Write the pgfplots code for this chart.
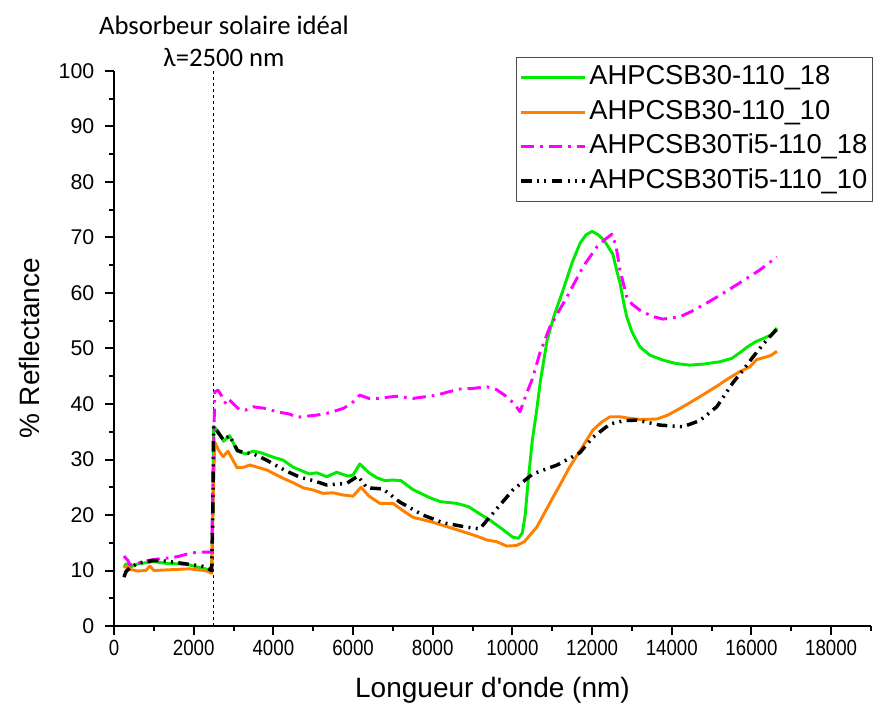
\documentclass[border=0pt]{standalone}
\usepackage{pgfplots}
\pgfplotsset{compat=1.18}
\usepackage{fontspec}
\setmainfont{Liberation Sans}
\newfontfamily\arial{Liberation Sans}
\newfontfamily\arialn[FakeStretch=0.85]{Liberation Sans}
\newfontfamily\carlito{Carlito}
\definecolor{cgreen}{RGB}{0,235,0}
\definecolor{corange}{RGB}{255,128,0}
\definecolor{cmag}{RGB}{255,0,255}
\begin{document}
\begin{tikzpicture}
\path[use as bounding box] (-85.5pt,-63.75pt) rectangle (581.25pt,469.5pt);
\begin{axis}[
 at={(0pt,0pt)}, anchor=south west,
 scale only axis, width=567.75pt, height=416.25pt,
 xmin=0, xmax=19000, ymin=0, ymax=100,
 axis lines=left,
 axis line style={-, line width=1.5pt, black},
 tick align=outside,
 major tick length=6.75pt, minor tick length=3.75pt,
 every tick/.style={line width=1.5pt, black},
 xtick={0,2000,...,18000}, minor xtick={1000,3000,...,19000},
 ytick={0,10,...,100}, minor ytick={5,15,...,95},
 scaled x ticks=false,
 /pgf/number format/assume math mode=true,
 /pgf/number format/set thousands separator={},
 xticklabel style={font=\arialn\fontsize{16.5}{19}\selectfont},
 yticklabel style={font=\arial\fontsize{16}{19}\selectfont, xshift=-4.5pt},
 xlabel={Longueur d'onde (nm)},
 ylabel={\% Reflectance},
 xlabel style={font=\arial\fontsize{21}{25}\selectfont, at={(axis description cs:0.5,-0.1153)}, anchor=center},
 ylabel style={font=\arial\fontsize{21}{25}\selectfont, at={(axis description cs:-0.111,0.5)}, anchor=center},
 legend style={at={(axis description cs:0.531,1.025)}, anchor=north west,
   draw=black!70, line width=0.8pt, font=\arial\fontsize{20.5}{24}\selectfont,
   inner sep=2pt, row sep=0pt,
   nodes={text height=15pt, text depth=4.5pt, inner ysep=3.2pt}},
 legend cell align=left,
 legend image code/.code={\draw[#1] (0pt,0pt) -- (48pt,0pt);},
 line join=round,
]
\addplot[black, line width=0.6pt, dash pattern=on 2.5pt off 2pt, forget plot] coordinates {(2500,0)(2500,100)};

\addplot[cgreen, line width=2.2pt] coordinates {
(250,10.5)(300,11.2)(400,10.6)(600,11.2)(800,11.4)(1000,11.6)(1300,11.3)(1600,11.2)(1900,11.0)(2100,10.6)(2300,10.3)(2450,9.8)(2480,20)(2500,36.0)(2600,35.2)(2750,33.3)(2900,34.3)(3100,31.5)(3300,31.0)(3500,31.5)(3700,31.2)(4000,30.4)(4240,29.9)(4500,28.6)(4670,28.1)(4900,27.4)(5090,27.6)(5340,26.9)(5590,27.7)(5870,27.0)(6000,27.2)(6170,29.2)(6400,27.6)(6600,26.7)(6800,26.2)(7000,26.3)(7200,26.2)(7500,24.6)(7930,23.1)(8200,22.4)(8600,22.1)(8900,21.5)(9180,20.2)(9450,19.0)(9700,17.7)(10010,16.0)(10150,15.8)(10250,16.8)(10320,20)(10400,26.5)(10500,33.5)(10600,38.4)(10700,44)(10870,51.5)(11050,56)(11270,60.5)(11500,65.5)(11700,69)(11850,70.5)(12000,71.1)(12150,70.5)(12300,69.5)(12520,67)(12620,64)(12700,61.8)(12800,58)(12870,55.7)(13000,53)(13200,50.3)(13450,48.8)(13780,47.9)(14100,47.3)(14450,47.0)(14800,47.2)(15200,47.6)(15500,48.2)(15700,49.2)(15900,50.3)(16100,51.2)(16300,51.8)(16500,52.5)(16640,53.7)
};
\addlegendentry{AHPCSB30-110\_18}

\addplot[corange, line width=2.2pt] coordinates {
(250,10.5)(300,10.8)(400,10.2)(600,9.9)(800,10.0)(900,10.8)(1000,10.0)(1300,10.1)(1600,10.2)(1900,10.3)(2100,10.1)(2300,10.0)(2450,9.5)(2480,20)(2530,33.1)(2640,31.5)(2740,30.5)(2860,31.5)(3090,28.5)(3250,28.6)(3410,29.0)(3600,28.6)(3840,28.1)(4000,27.5)(4250,26.6)(4500,25.8)(4750,24.9)(5000,24.5)(5250,23.9)(5500,24.0)(5750,23.6)(6000,23.4)(6200,25.0)(6400,23.4)(6670,22.1)(7000,22.1)(7250,20.8)(7500,19.6)(8000,18.7)(8400,17.8)(8760,17.0)(9100,16.2)(9360,15.5)(9600,15.2)(9860,14.4)(10100,14.5)(10300,15.2)(10610,17.8)(10800,20.3)(11020,23.2)(11200,25.5)(11440,28.7)(11690,31.5)(12020,35.3)(12250,36.8)(12450,37.7)(12700,37.7)(12870,37.5)(13200,37.2)(13630,37.3)(13900,38.0)(14130,38.9)(14400,40.0)(14700,41.3)(15130,43.2)(15400,44.5)(15700,45.8)(15960,46.7)(16130,48.0)(16380,48.5)(16500,48.8)(16640,49.5)
};
\addlegendentry{AHPCSB30-110\_10}

\addplot[cmag, line width=2.2pt, dash pattern=on 10pt off 4.5pt on 2pt off 4.5pt] coordinates {
(250,12.6)(350,11.8)(400,11.0)(600,11.3)(800,11.7)(1000,12.0)(1300,12.2)(1600,12.5)(1800,12.9)(2000,13.2)(2250,13.3)(2450,13.3)(2480,25)(2530,42.2)(2610,42.5)(2700,41.5)(2790,40.2)(2860,41.0)(3000,40.0)(3160,38.9)(3300,38.9)(3490,39.5)(3800,39.2)(4090,38.6)(4400,38.2)(4590,37.6)(5090,38.0)(5400,38.4)(5750,39.2)(5950,40.0)(6170,41.6)(6400,41.0)(6600,41.0)(7100,41.4)(7500,41.0)(8100,41.6)(8400,42.2)(8680,42.7)(9000,42.8)(9360,43.1)(9600,42.6)(9860,41.3)(10050,40.0)(10190,38.6)(10360,42.0)(10500,44.5)(10690,49.2)(10940,53.9)(11370,59.3)(11770,64.7)(12120,68.3)(12350,69.8)(12500,70.6)(12600,68.5)(12700,64.1)(12870,59.3)(13000,58.0)(13200,56.9)(13500,55.8)(13780,55.3)(14200,55.7)(14500,56.7)(14880,58.2)(15300,60.0)(15700,61.8)(16200,64.1)(16640,66.5)
};
\addlegendentry{AHPCSB30Ti5-110\_18}

\addplot[black, line width=2.6pt, dash pattern=on 8pt off 4pt on 1.5pt off 4pt on 1.5pt off 4pt] coordinates {
(250,8.8)(300,9.8)(400,10.5)(600,11.3)(800,11.6)(1000,11.8)(1300,11.7)(1600,11.4)(1800,11.2)(2000,11.0)(2200,10.8)(2350,10.4)(2450,10.0)(2480,20)(2500,36.0)(2600,35.0)(2750,33.5)(2900,34.3)(3100,31.6)(3300,31.2)(3500,31.0)(3800,30.0)(4000,29.2)(4300,28.0)(4670,26.8)(5000,26.2)(5340,25.4)(5840,25.7)(6120,27.0)(6350,24.9)(6750,24.7)(7180,22.3)(7750,20.0)(8260,18.6)(8860,17.8)(9180,17.5)(9510,20.3)(10010,24.5)(10510,27.4)(11120,29.0)(11690,31.2)(12020,34.0)(12450,36.4)(12800,37.0)(13120,37.1)(13700,36.2)(14280,35.9)(14700,37.0)(15130,39.5)(15530,43.8)(15790,46.1)(16040,48.5)(16380,51.5)(16640,53.5)
};
\addlegendentry{AHPCSB30Ti5-110\_10}
\end{axis}
\node[font=\carlito\fontsize{20}{24}\selectfont, align=center] at (82.5pt,438.75pt) {Absorbeur solaire idéal\\λ=2500 nm};
\end{tikzpicture}
\end{document}
